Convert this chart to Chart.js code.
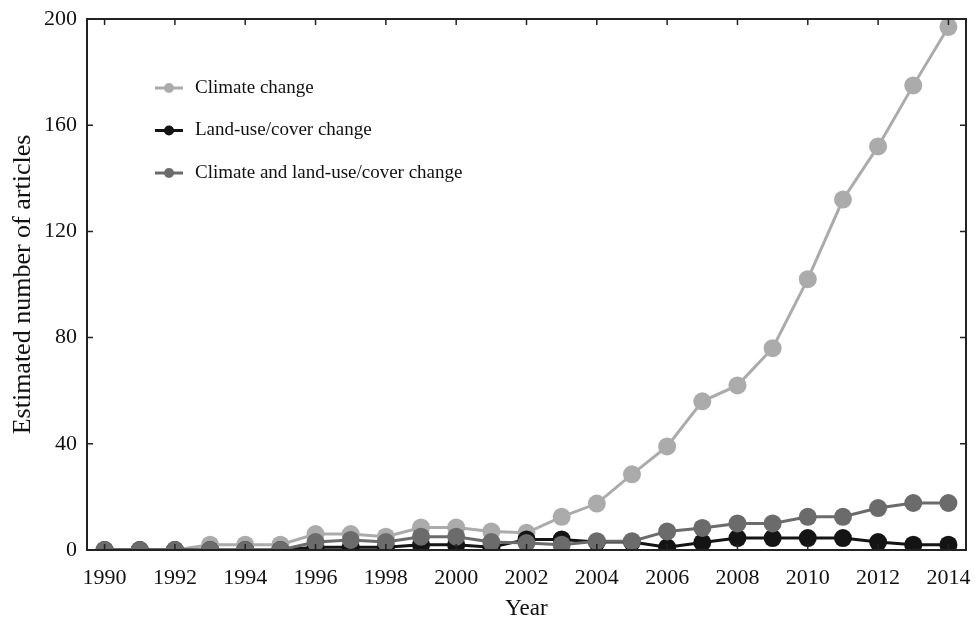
<!DOCTYPE html>
<html>
<head>
<meta charset="utf-8">
<script src="https://cdn.jsdelivr.net/npm/chart.js@4.4.1/dist/chart.umd.min.js"></script>
<style>
  html, body { margin: 0; padding: 0; background: #fff; }
  #wrap { width: 975px; height: 623px; position: relative; }
</style>
</head>
<body>
<div id="wrap"><canvas id="myChart" width="975" height="623"></canvas></div>
<script>
//Data
years = [1990, 1991, 1992, 1993, 1994, 1995, 1996, 1997, 1998, 1999, 2000, 2001, 2002,
  2003, 2004, 2005, 2006, 2007, 2008, 2009, 2010, 2011, 2012, 2013, 2014];
climateChange = [0, 0, 0, 2, 2, 2, 6, 6, 5, 8.5, 8.5, 7, 6.5, 12.5, 17.5, 28.5, 39, 56, 62, 76, 102, 132, 152, 175, 197];
landUseChange = [0, 0, 0, 0, 0, 0, 1, 1, 1, 2, 2, 1, 4, 4, 3, 3, 1, 2.8, 4.5, 4.5, 4.5, 4.5, 3, 2, 2];
climateAndLandUse = [0, 0, 0, 0, 0, 0, 3, 3.8, 3, 5, 5, 3, 2.6, 2, 3.3, 3.3, 7, 8.3, 10, 10, 12.5, 12.5, 15.8, 17.7, 17.7];
yTicks = [0, 40, 80, 120, 160, 200];
seriesNames = ['Climate change', 'Land-use/cover change', 'Climate and land-use/cover change'];
seriesColors = ['#ababab', '#141414', '#6b6b6b'];

serif = "'Liberation Serif', 'DejaVu Serif', serif";

function makeDataset(i, values, order){
  return {
    label: seriesNames[i],
    data: values,
    borderColor: seriesColors[i],
    backgroundColor: seriesColors[i],
    pointBackgroundColor: seriesColors[i],
    pointBorderWidth: 0,
    pointRadius: 9,
    borderWidth: 3,
    tension: 0,
    order: order
  };
}

//Box, inward ticks and legend inside plot
const framePlugin = {
  id: 'frame',
  afterDraw(chart){
    const ctx = chart.ctx;
    const a = chart.chartArea;
    const x = chart.scales.x;
    const y = chart.scales.y;
    ctx.save();
    ctx.strokeStyle = '#222';
    ctx.lineWidth = 2;
    ctx.strokeRect(a.left, a.top, a.right - a.left, a.bottom - a.top);
    ctx.lineWidth = 1.5;
    ctx.beginPath();
    years.forEach((yr, i) => {
      if (yr % 2 != 0) return;
      const px = x.getPixelForValue(i);
      ctx.moveTo(px, a.top); ctx.lineTo(px, a.top + 6);
      ctx.moveTo(px, a.bottom); ctx.lineTo(px, a.bottom - 6);
    });
    yTicks.forEach(v => {
      const py = y.getPixelForValue(v);
      ctx.moveTo(a.left, py); ctx.lineTo(a.left + 6, py);
      ctx.moveTo(a.right, py); ctx.lineTo(a.right - 6, py);
    });
    ctx.stroke();

    // legend
    const lx = a.left + 68;
    let ly = a.top + 69;
    ctx.font = '19px ' + serif;
    ctx.textBaseline = 'middle';
    seriesNames.forEach((name, i) => {
      ctx.strokeStyle = seriesColors[i];
      ctx.fillStyle = seriesColors[i];
      ctx.lineWidth = 3;
      ctx.beginPath();
      ctx.moveTo(lx, ly); ctx.lineTo(lx + 28, ly);
      ctx.stroke();
      ctx.beginPath();
      ctx.arc(lx + 14, ly, 5, 0, Math.PI * 2);
      ctx.fill();
      ctx.fillStyle = '#111';
      ctx.fillText(name, lx + 40, ly);
      ly += 42.5;
    });
    ctx.restore();
  }
};

const data = {
  labels: years,
  datasets: [
    makeDataset(0, climateChange, 3),
    makeDataset(1, landUseChange, 2),
    makeDataset(2, climateAndLandUse, 1)
  ]
};

const config = {
  type: 'line',
  data: data,
  options: {
    responsive: false,
    animation: false,
    layout: { padding: { top: 19, right: 6, left: 0, bottom: 0 } },
    plugins: {
      legend: { display: false },
      tooltip: { enabled: false }
    },
    scales: {
      x: {
        type: 'category',
        offset: true,
        grid: { display: false, drawTicks: false },
        border: { display: false },
        ticks: {
          autoSkip: false,
          maxRotation: 0,
          padding: 15,
          color: '#111',
          font: { family: serif, size: 22 },
          callback: function(v, i){ return years[i] % 2 == 0 ? String(years[i]) : ''; }
        },
        title: {
          display: true,
          text: 'Year',
          color: '#111',
          font: { family: serif, size: 23 },
          padding: { top: 0, bottom: 0 }
        },
        afterFit: function(s){ s.height = 73; s.paddingLeft = 0; s.paddingRight = 0; }
      },
      y: {
        min: 0,
        max: 200,
        grid: { display: false, drawTicks: false },
        border: { display: false },
        afterBuildTicks: function(s){ s.ticks = yTicks.map(v => ({ value: v })); },
        ticks: {
          padding: 10,
          color: '#111',
          font: { family: serif, size: 22 }
        },
        title: {
          display: true,
          text: 'Estimated number of articles',
          color: '#111',
          font: { family: serif, size: 26 },
          padding: { top: 8, bottom: 0 }
        },
        afterFit: function(s){ s.width = 87; s.paddingTop = 0; s.paddingBottom = 0; }
      }
    }
  },
  plugins: [framePlugin]
};

const myChart = new Chart(
  document.getElementById('myChart'),
  config
);
</script>
</body>
</html>
